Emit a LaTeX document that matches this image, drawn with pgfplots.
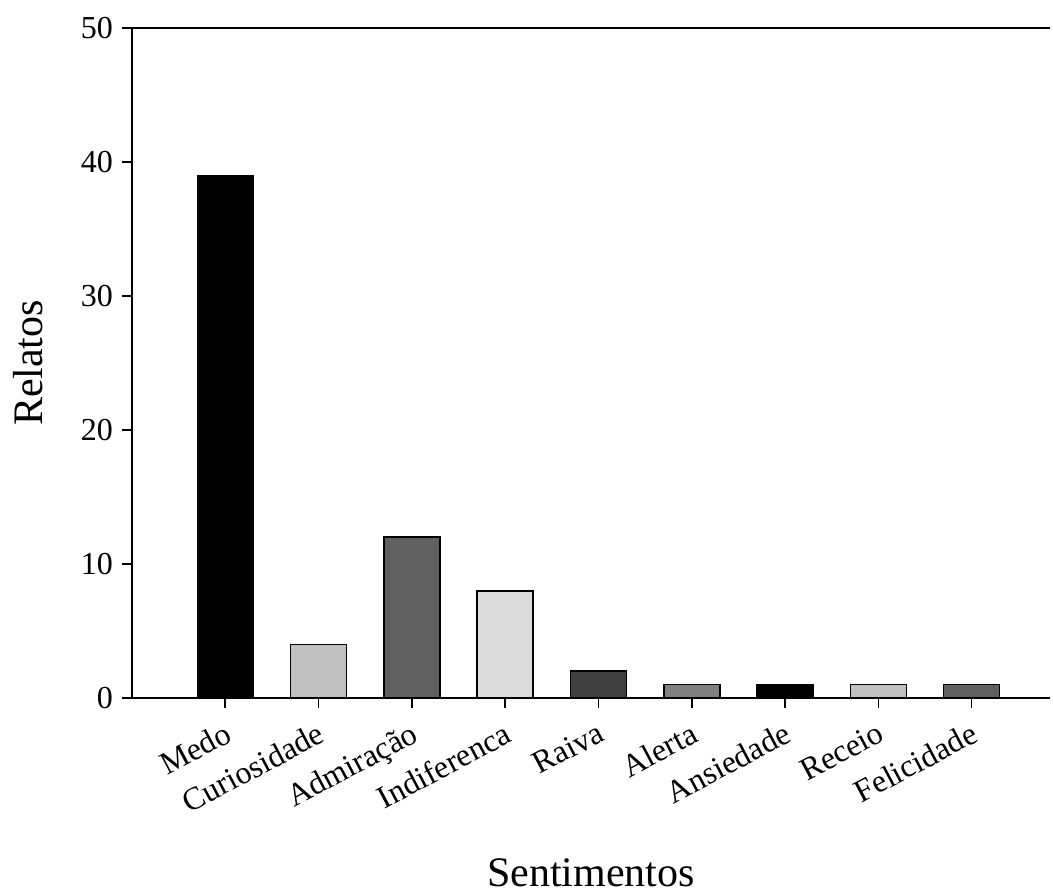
\documentclass[border=0pt]{standalone}
\usepackage{pgfplots}
\pgfplotsset{compat=1.18}
\usepackage{fontspec}
\setmainfont{Liberation Serif}
\definecolor{g0}{HTML}{000000}
\definecolor{g1}{HTML}{C0C0C0}
\definecolor{g2}{HTML}{606060}
\definecolor{g3}{HTML}{DCDCDC}
\definecolor{g4}{HTML}{404040}
\definecolor{g5}{HTML}{808080}
\begin{document}
\begin{tikzpicture}
\begin{axis}[
  scale only axis,
  width=459pt, height=335pt,
  xmin=0, xmax=9.84,
  ymin=0, ymax=50,
  ytick={0,10,20,30,40,50},
  xtick={1,2,3,4,5,6,7,8,9},
  xticklabels={Medo,Curiosidade,Admiração,Indiferenca,Raiva,Alerta,Ansiedade,Receio,Felicidade},
  axis x line*=box,
  axis y line*=left,
  axis line style={line width=1pt,-},
  xtick pos=bottom, ytick pos=left,
  tick align=outside,
  major tick length=5pt,
  tick style={line width=0.8pt, black},
  /pgf/number format/assume math mode=true,
  ticklabel style={font=\fontsize{16}{18}\selectfont},
  yticklabel style={xshift=-1pt},
  xticklabel style={rotate=28, anchor=north east, inner sep=1pt, xshift=-3pt, yshift=-4pt},
  xlabel={Sentimentos},
  ylabel={Relatos},
  label style={font=\fontsize{21}{24}\selectfont},
  xlabel style={at={(rel axis cs:0.5,0)}, anchor=base, yshift=-94pt},
  ylabel style={at={(rel axis cs:0,0.5)}, anchor=center, yshift=52pt},
  ybar, bar width=0.6, bar shift=0pt,
  every axis plot/.append style={draw=black, line width=0.8pt},
  clip=false,
]
\addplot[fill=g0] coordinates {(1,39)};
\addplot[fill=g1] coordinates {(2,4)};
\addplot[fill=g2] coordinates {(3,12)};
\addplot[fill=g3] coordinates {(4,8)};
\addplot[fill=g4] coordinates {(5,2)};
\addplot[fill=g5] coordinates {(6,1)};
\addplot[fill=g0] coordinates {(7,1)};
\addplot[fill=g1] coordinates {(8,1)};
\addplot[fill=g2] coordinates {(9,1)};
\end{axis}
\pgfresetboundingbox
\path (current axis.south west) ++(-66pt,-98.5pt) coordinate (bbsw);
\path (current axis.north east) ++(1.5pt,14pt) coordinate (bbne);
\useasboundingbox (bbsw) rectangle (bbne);
\end{tikzpicture}
\end{document}
